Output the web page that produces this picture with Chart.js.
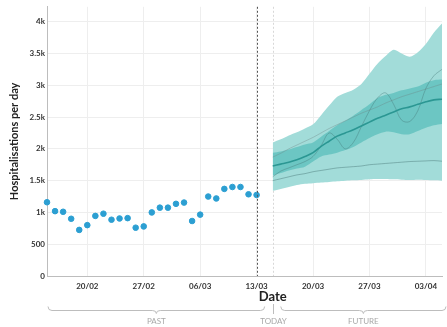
<!DOCTYPE html>
<html>
<head>
<meta charset="utf-8">
<script src="https://cdn.jsdelivr.net/npm/chart.js@4.4.1/dist/chart.umd.min.js"></script>
<style>
  html, body { margin: 0; padding: 0; background: #fff; }
  #wrap { width: 447px; height: 327px; }
</style>
</head>
<body>
<div id="wrap"><canvas id="c" width="447" height="327"></canvas></div>
<script>
// Day 0 = 15/02; one entry per day.
const pastStartDay = 0;
const pastHospitalisations = [1160, 1020, 1010, 900, 725, 800, 945, 980, 885, 905, 910, 760, 780,
  1000, 1075, 1075, 1135, 1155, 865, 965, 1250, 1220, 1370, 1400, 1400, 1285, 1275];

// Projections, day 28 (15/03) to day 49 (05/04).
const forecastStartDay = 28;
const outerUpper = [2100, 2150, 2210, 2260, 2320, 2385, 2530, 2680, 2820, 2880, 2930, 3020, 3180,
  3340, 3460, 3560, 3500, 3450, 3520, 3650, 3830, 3970];
const outerLower = [1340, 1370, 1400, 1430, 1450, 1460, 1470, 1480, 1490, 1500, 1505, 1510, 1520,
  1525, 1525, 1520, 1515, 1510, 1515, 1510, 1505, 1500];
const innerUpper = [1940, 1960, 1990, 2030, 2070, 2100, 2190, 2280, 2370, 2440, 2520, 2610, 2700,
  2800, 2850, 2880, 2920, 2950, 2980, 3040, 3080, 3090];
const innerLower = [1580, 1620, 1660, 1690, 1720, 1800, 1880, 1910, 1940, 1980, 2030, 2100, 2170,
  2230, 2270, 2260, 2230, 2230, 2280, 2330, 2370, 2390];
const median = [1730, 1760, 1790, 1830, 1880, 1940, 2040, 2120, 2200, 2250, 2300, 2360, 2420,
  2480, 2530, 2580, 2630, 2660, 2700, 2740, 2770, 2780];
const scenarioA = [1870, 1930, 2000, 2060, 2120, 2180, 2250, 2320, 2380, 2440, 2500, 2560, 2610,
  2660, 2720, 2770, 2820, 2860, 2900, 2940, 2980, 3020];
const scenarioB = [1560, 1650, 1700, 1750, 1800, 1880, 2050, 2250, 2150, 2000, 2100, 2350, 2600,
  2800, 2880, 2700, 2450, 2430, 2600, 2950, 3150, 3250];
const scenarioC = [1500, 1530, 1560, 1590, 1610, 1640, 1660, 1680, 1700, 1710, 1720, 1730, 1750,
  1760, 1770, 1780, 1790, 1800, 1805, 1810, 1815, 1805];

// Axis ticks
const xTickDays = [5, 12, 19, 26, 33, 40, 47];
const xTickLabels = ['20/02', '27/02', '06/03', '13/03', '20/03', '27/03', '03/04'];
const yTickValues = [0, 500, 1000, 1500, 2000, 2500, 3000, 3500, 4000];
const yTickLabels = ['0', '500', '1k', '1.5k', '2k', '2.5k', '3k', '3.5k', '4k'];

const todayDay = 26;
const xMin = 0, xMax = 49, yMin = 0, yMax = 4234;

const toPoints = (arr, start) => arr.map((v, i) => ({ x: start + i, y: v }));

const FONT = 'Lato, "Open Sans", sans-serif';

const band = (data, fillColor, fillTarget, order) => ({
  type: 'line', data, borderWidth: 0, borderColor: 'rgba(0,0,0,0)',
  backgroundColor: fillColor, fill: fillTarget, pointRadius: 0, tension: 0.3, order
});
const thin = (data, color, width, order) => ({
  type: 'line', data, borderWidth: width, borderColor: color, fill: false,
  pointRadius: 0, tension: 0.35, order
});

// Vertical markers and the PAST / TODAY / FUTURE braces under the axis
const decorations = {
  id: 'decorations',
  beforeDatasetsDraw(chart) {
    const { ctx, chartArea, scales: { x } } = chart;
    ctx.save();
    ctx.lineWidth = 1;
    ctx.strokeStyle = '#d8d8d8';
    ctx.setLineDash([2, 2]);
    const xf = Math.round(x.getPixelForValue(forecastStartDay)) + 0.5;
    ctx.beginPath(); ctx.moveTo(xf, chartArea.top); ctx.lineTo(xf, chartArea.bottom); ctx.stroke();
    ctx.restore();
  },
  afterDatasetsDraw(chart) {
    const { ctx, chartArea, scales: { x } } = chart;
    ctx.save();
    ctx.lineWidth = 1;
    ctx.strokeStyle = '#555';
    ctx.setLineDash([2, 2]);
    const xt = Math.round(x.getPixelForValue(todayDay)) + 0.5;
    ctx.beginPath(); ctx.moveTo(xt, chartArea.top); ctx.lineTo(xt, chartArea.bottom); ctx.stroke();
    ctx.restore();
  },
  afterDraw(chart) {
    const { ctx, scales: { x } } = chart;
    const W = chart.width;
    ctx.save();
    // axis title
    ctx.fillStyle = '#222';
    ctx.font = 'bold 13px ' + FONT;
    ctx.textAlign = 'center';
    ctx.textBaseline = 'middle';
    ctx.fillText('Date', x.getPixelForValue(forecastStartDay), 297);

    const y0 = 310.5;
    const brace = (x0, x1) => {
      const cx = (x0 + x1) / 2;
      ctx.beginPath();
      ctx.moveTo(x0, y0 - 4);
      ctx.quadraticCurveTo(x0, y0, x0 + 4, y0);
      ctx.lineTo(cx - 4, y0);
      ctx.quadraticCurveTo(cx, y0, cx, y0 + 3);
      ctx.quadraticCurveTo(cx, y0, cx + 4, y0);
      ctx.lineTo(x1 - 4, y0);
      ctx.quadraticCurveTo(x1, y0, x1, y0 - 4);
      ctx.stroke();
      return cx;
    };
    ctx.strokeStyle = '#bdbdbd';
    ctx.lineWidth = 1;
    const pastCx = brace(x.getPixelForValue(pastStartDay) + 1, x.getPixelForValue(todayDay + 1));
    const futureCx = brace(x.getPixelForValue(forecastStartDay + 1), W - 1);
    const todayX = Math.round(x.getPixelForValue(forecastStartDay)) + 0.5;
    ctx.beginPath(); ctx.moveTo(todayX, 304); ctx.lineTo(todayX, 314); ctx.stroke();

    ctx.fillStyle = '#a8a8a8';
    ctx.font = '8px ' + FONT;
    ctx.fillText('PAST', pastCx, 321.5);
    ctx.fillText('TODAY', todayX, 321.5);
    ctx.fillText('FUTURE', futureCx, 321.5);
    ctx.restore();
  }
};

new Chart(document.getElementById('c'), {
  data: {
    datasets: [
      {
        type: 'scatter', data: toPoints(pastHospitalisations, pastStartDay),
        backgroundColor: '#2c9fd2', borderColor: '#2c9fd2', pointRadius: 2.8,
        pointHoverRadius: 2.8, clip: false, order: 0
      },
      thin(toPoints(median, forecastStartDay), '#2b9793', 1.6, 1),
      thin(toPoints(scenarioA, forecastStartDay), 'rgba(110,130,130,0.45)', 0.8, 2),
      thin(toPoints(scenarioB, forecastStartDay), 'rgba(70,120,120,0.5)', 0.8, 2),
      thin(toPoints(scenarioC, forecastStartDay), 'rgba(70,115,115,0.55)', 0.8, 2),
      band(toPoints(innerUpper, forecastStartDay), 'rgba(64,180,177,0.55)', '+1', 3),
      band(toPoints(innerLower, forecastStartDay), 'rgba(0,0,0,0)', false, 3),
      band(toPoints(outerUpper, forecastStartDay), '#a2dcd9', '+1', 4),
      band(toPoints(outerLower, forecastStartDay), 'rgba(0,0,0,0)', false, 4)
    ]
  },
  options: {
    responsive: false,
    animation: false,
    devicePixelRatio: 1,
    layout: { padding: { left: 8, right: 5, top: 5, bottom: 0 } },
    plugins: { legend: { display: false }, tooltip: { enabled: false } },
    scales: {
      x: {
        type: 'linear', min: xMin, max: xMax,
        afterBuildTicks: (s) => { s.ticks = xTickDays.map(v => ({ value: v })); },
        afterFit: (s) => { s.height = 51; },
        ticks: {
          autoSkip: false, maxRotation: 0, padding: 6, color: '#333',
          font: { family: FONT, size: 8, weight: 'bold' },
          callback: (v) => { const i = xTickDays.indexOf(v); return i >= 0 ? xTickLabels[i] : ''; }
        },
        grid: { color: '#eeeeee', drawTicks: false },
        border: { color: '#bdbdbd' }
      },
      y: {
        type: 'linear', min: yMin, max: yMax,
        afterBuildTicks: (s) => { s.ticks = yTickValues.map(v => ({ value: v })); },
        afterFit: (s) => { s.width = 39; },
        ticks: {
          padding: 2, color: '#333',
          font: { family: FONT, size: 8, weight: 'bold' },
          callback: (v) => { const i = yTickValues.indexOf(v); return i >= 0 ? yTickLabels[i] : ''; }
        },
        grid: { color: '#eeeeee', drawTicks: false },
        border: { color: '#bdbdbd' },
        title: {
          display: true, text: 'Hospitalisations per day', color: '#222',
          padding: { top: 0, bottom: 0 },
          font: { family: FONT, size: 11, weight: 'bold' }
        }
      }
    }
  },
  plugins: [decorations]
});
</script>
</body>
</html>
